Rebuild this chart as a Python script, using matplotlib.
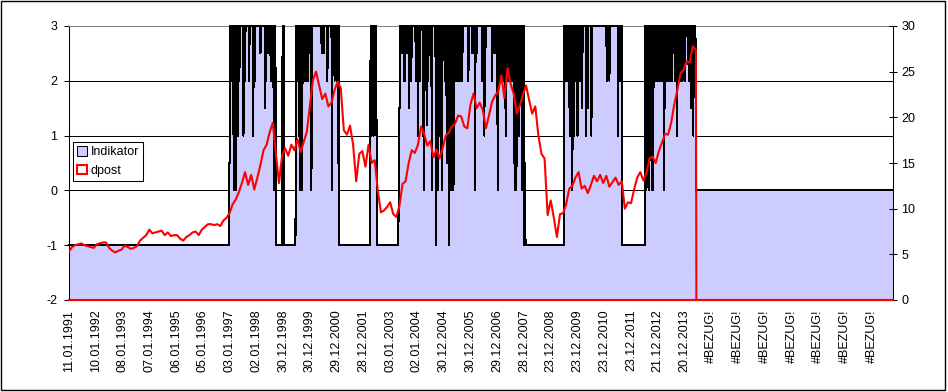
import numpy as np
import matplotlib
matplotlib.use("Agg")
import matplotlib.pyplot as plt
from matplotlib.patches import Patch, Rectangle

plt.rcParams['font.family'] = ['Liberation Sans', 'DejaVu Sans']

# category axis: weekly values, one label every 52 weeks
n_weeks = 1602
label_step = 52
x_labels = ["11.01.1991", "10.01.1992", "08.01.1993", "07.01.1994", "06.01.1995",
            "05.01.1996", "03.01.1997", "02.01.1998", "30.12.1998", "30.12.1999",
            "29.12.2000", "28.12.2001", "03.01.2003", "02.01.2004", "30.12.2004",
            "30.12.2005", "29.12.2006", "28.12.2007", "23.12.2008", "23.12.2009",
            "23.12.2010", "23.12.2011", "21.12.2012", "20.12.2013"] + ["#BEZUG!"] * 7

# Indikator (left axis): runs of a level, in weeks
ind_level = [-1, 0.5, 3, -1, 3, -1, 3, -1, 3, -1, 1.5, 3, -1, 3, -1, 3, 0]
ind_weeks = [311, 2, 89, 13, 3, 23, 84, 61, 12, 43, 3, 243, 75, 113, 45, 99, 383]

# single-week dips inside the high runs
spike_week = [314, 316, 320, 322, 324, 325, 328, 331, 339, 342, 350, 358, 361, 372, 381,
              383, 387, 392, 398, 400, 416,
              443, 445, 447, 449, 451, 453, 456, 459, 462, 471, 491, 495, 502, 511, 516,
              520, 523,
              587, 588, 591, 592, 594, 596,
              646, 648, 651, 653, 656, 661, 665, 674, 676, 678, 682, 688, 690, 695, 698,
              705, 713, 717, 721, 724, 730, 734, 737, 739, 743, 747, 750, 753, 756, 760,
              764, 776, 784, 789, 792, 803, 807, 809, 822, 826, 830, 833, 836, 838, 841,
              845, 847, 849, 852, 855, 858, 860, 865, 867, 869, 871, 873, 875, 877, 880,
              881, 883, 885, 886,
              965, 970, 973, 975, 978, 981, 985, 988, 993, 997, 1005, 1008, 1015, 1045, 1050,
              1067, 1070,
              1122, 1124, 1126, 1128, 1130, 1132, 1135, 1137, 1140, 1143, 1146, 1150, 1156,
              1158, 1165, 1172, 1175, 1179, 1181, 1183, 1187, 1197, 1204, 1209, 1212,
              1213, 1218]
spike_level = [2, 2, 0, 2, 0, 2, 1, 2, 1, 2, 2, 1, 2, 2.5, 1.5,
               2, 2.5, 2, 0, 2.5, 1.5,
               2, 2, 1, 0, 2, 0, 2, 2, 2, 0, 2.5, 2.5, 2, 0, 2,
               2, 0.5,
               2, 1, 2, 1, 2, 2,
               2.5, 2.5, 2, 2, 2.5, 1.5, 2, 2, 2, 1, 2, 1, 0, 1.2, 2,
               0, -1, 0, 1, 0, 2, 0.5, 2, -1, 0, 0, 2, 2, 2, 2.5,
               2, 2, 2.5, 0, 2.5, 2, 1, 2.5, 2, 2.5, 2.5, 0, 2, 2, 2,
               2, 1.5, 1, 2, 2, 2, 2, 0.5, 0, 0, 1, 1, 1, 2, 0.5,
               0, 2, -1, 0.5,
               2, 2, 1, 2, 0, 1, 2, 1, 2, 1.5, 1, 1.5, 1, 2, 2,
               1, 2,
               0, 2, 0, 2, 2.5, 0, 0, 2, 2, 2, 2, 2, 0,
               1.5, 2, 2, 2.5, 2, 1, 2, 2, 2, 2, 1.5, 1.5,
               1, 2]

# shallower dips in the densest stretches
dense_week = [318, 321, 455, 458, 461, 464, 466, 647, 652, 655, 675, 679,
              749, 752, 755, 758, 762, 835, 840, 843, 851, 854, 857, 866, 870, 874,
              967, 969, 972, 977, 984,
              1138, 1141, 1144, 1148, 1152, 1154, 1160, 1162, 1168, 1170, 1177, 1185,
              1189, 1192]
dense_level = [2, 2, 2, 2.5, 2, 2, 2.5, 2.5, 2.5, 2.5, 2, 2,
               2, 2, 2, 2, 2, 2, 2, 2, 2, 2, 2, 1, 1, 1,
               2, 2, 2, 2, 2,
               2, 2, 2, 2, 2, 2, 2, 2, 2, 2, 2, 2,
               2, 2]

# dpost (right axis): one value every 6 weeks
dpost_step = 6
dpost = [5.3, 5.8, 6.0, 6.1, 6.2, 6.0, 5.9, 5.8, 5.7, 6.1,
         6.2, 6.3, 6.3, 5.7, 5.4, 5.2, 5.4, 5.5, 5.95, 5.8, 5.6,
         5.7, 5.9, 6.5, 6.8, 7.1, 7.7, 7.3, 7.4, 7.5, 7.6,
         7.1, 7.4, 7.0, 7.1, 7.1, 6.7, 6.5, 6.9, 7.1, 7.4,
         7.5, 7.1, 7.7, 8.0, 8.3, 8.3, 8.2, 8.3, 8.1, 8.7,
         9.0, 9.5, 10.5, 11.0, 11.8, 12.8, 14.0, 12.6, 13.7,
         12.1, 13.4, 14.8, 16.4, 17.0, 18.4, 19.4, 16.0, 12.8, 15.8, 16.6, 15.8,
         17.0, 16.4, 17.6, 16.2, 17.3, 18.4, 21.2, 24.1, 25.0, 23.5,
         22.0, 22.6, 21.2, 21.6, 23.0, 23.9, 23.2, 18.6, 18.1, 19.1,
         17.0, 13.0, 16.0, 16.3, 14.6, 17.0, 15.0, 15.3,
         12.0, 9.6, 9.8, 10.2,
         10.7, 9.4, 9.1, 10.3, 12.7, 13.0, 15.0, 16.4, 16.1, 17.0,
         19.0, 18.2, 16.9, 17.4, 15.6, 16.5, 15.5, 16.6, 18.0, 18.3,
         19.0, 19.3, 20.2, 20.1, 19.0, 18.8, 21.4, 22.6, 21.0, 21.6,
         20.8, 18.8, 20.2, 21.7,
         22.4, 22.8, 24.6, 22.1, 25.4, 23.7, 22.6,
         20.4, 21.3, 22.5, 23.5, 21.9, 20.4, 21.2, 18.0, 16.0, 15.5,
         9.3, 10.9, 9.0, 6.9, 9.4, 9.5, 10.5, 12.2, 12.5, 13.4,
         14.0, 12.2, 12.5, 11.7, 12.6, 13.6, 13.0, 13.7, 12.8, 13.6,
         12.4, 12.9,
         13.4, 12.6, 13.0, 10.0, 10.7, 10.6, 12.1, 13.4, 14.0,
         13.1, 13.9, 15.5, 15.7, 15.0, 16.3, 17.2, 18.2, 18.1, 19.4,
         21.4, 23.0, 24.8, 25.2, 26.1, 26.0, 27.8, 27.4]

AREA = "#CCCCFF"
RED = "#FF0000"

weeks = np.arange(n_weeks)
indikator = np.repeat(ind_level, ind_weeks).astype(float)
indikator[spike_week] = spike_level
indikator[dense_week] = dense_level

dpost_weeks = np.arange(len(dpost)) * dpost_step
end_week = dpost_weeks[-1] + 1
dx = np.r_[dpost_weeks, end_week, n_weeks - 1]
dy = np.r_[dpost, 0, 0]

fig = plt.figure(figsize=(9.48, 3.92), dpi=100)
ax = fig.add_axes([69 / 948, 1 - 300 / 392, 824 / 948, 274 / 392])
ax2 = ax.twinx()

# Indikator area
ax.fill_between(weeks, -2, indikator, facecolor=AREA, edgecolor="none", zorder=2)
ax.plot(weeks, indikator, color="black", lw=0.75, zorder=3, clip_on=False,
        antialiased=False)
ax.set_xlim(0, n_weeks - 1)
ax.set_ylim(-2, 3)
ax.set_yticks([-2, -1, 0, 1, 2, 3])
ax.set_yticklabels(["-2", "-1", "0", "1", "2", "3"])
ax.yaxis.grid(True, color="black", lw=0.75)
gl = ax.get_ygridlines()
gl[0].set_visible(False)
gl[-1].set_visible(False)
ax.set_axisbelow(True)
ax.set_xticks(np.arange(len(x_labels)) * label_step)
ax.set_xticklabels(x_labels, rotation=90, fontsize=9)
ax.tick_params(axis="x", length=0, pad=7)
ax.tick_params(axis="y", direction="out", length=3.5, width=0.75, pad=5, labelsize=9)
ax.spines["right"].set_visible(False)
ax.spines["top"].set_color("#808080")
ax.spines["top"].set_linewidth(0.75)
ax.spines["left"].set_linewidth(0.75)
ax.spines["bottom"].set_linewidth(0.75)

# dpost line on the secondary axis
ax2.plot(dx, dy, color=RED, lw=1.5, zorder=3)
ax2.plot([0, n_weeks - 1], [0, 0], color=RED, lw=1.5, zorder=3, clip_on=False)
ax2.set_ylim(0, 30)
ax2.set_yticks(np.arange(0, 31, 5))
ax2.tick_params(axis="y", direction="inout", length=6, width=0.75, pad=3, labelsize=9)
for s in ["top", "bottom", "left"]:
    ax2.spines[s].set_visible(False)
ax2.spines["right"].set_linewidth(0.75)

handles = [Patch(facecolor=AREA, edgecolor="black", lw=0.75),
           Patch(facecolor="white", edgecolor=RED, lw=1.5)]
leg = ax2.legend(handles, ["Indikator", "dpost"], loc="upper left",
                 bbox_to_anchor=(4 / 824, 158 / 274), borderaxespad=0,
                 fancybox=False, edgecolor="black", framealpha=1, fontsize=9,
                 handlelength=0.75, handleheight=0.75, handletextpad=0.3,
                 borderpad=0.35, labelspacing=0.5)
leg.get_frame().set_linewidth(0.75)

fig.patches.append(Rectangle((0.001, 0.005), 0.996, 0.992, transform=fig.transFigure,
                             fill=False, edgecolor="black", lw=1))

fig.savefig("out.png", dpi=100)
